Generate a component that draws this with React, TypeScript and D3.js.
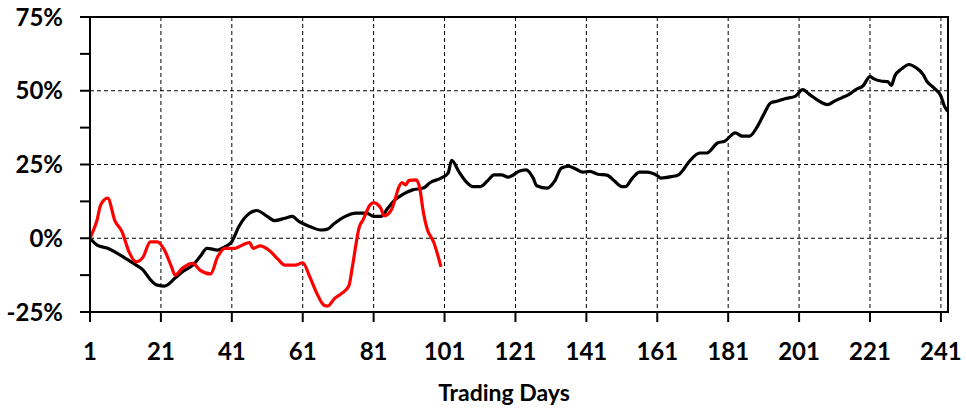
import React from 'react';
import * as d3 from 'd3';

// 차트 데이터 (그림에서 읽은 값, 단위: %)
const blackDays = [
  1, 3, 6, 8, 11, 14, 16, 18, 20, 22, 25, 27, 30, 32, 34, 37, 39, 41, 43, 46, 48, 51, 53, 56, 58, 60, 63, 66, 68, 70,
  73, 76, 79, 81, 83, 85, 87, 89, 92, 95, 97, 100, 102, 103, 105, 107, 109, 111, 113, 115, 117, 119, 120, 122, 124,
  126, 127, 130, 132, 134, 136, 138, 140, 142, 144, 147, 149, 151, 152, 154, 156, 158, 161, 162, 165, 167, 168, 170,
  173, 175, 178, 180, 183, 185, 187, 189, 191, 193, 195, 197, 200, 202, 204, 206, 209, 211, 213, 215, 217, 219, 221,
  222, 224, 226, 227, 228, 230, 232, 234, 236, 237, 239, 241, 242, 243,
];
const blackValues = [
  0, -2.3, -3.4, -4.6, -6.8, -9.1, -10.8, -14, -15.9, -16.2, -13.5, -11.4, -9.1, -6.3, -3.4, -4, -2.9, -1.2, 4, 8.5,
  9.4, 7.4, 6, 6.8, 7.4, 5.6, 4, 2.8, 3.1, 5.1, 7.4, 8.5, 8.5, 7.4, 7.4, 10.2, 13, 14.7, 16.4, 17, 18.9, 20.4, 22.1,
  26.4, 22.7, 19.3, 17.5, 17.5, 19.3, 21.5, 21.5, 20.7, 21.2, 22.7, 23.2, 20.4, 17.8, 17, 19.3, 23.8, 24.4, 23.5, 22.4,
  22.7, 21.8, 21.3, 19.3, 17.5, 17.5, 20.4, 22.4, 22.4, 21.2, 20.4, 20.9, 21.5, 22.7, 26, 28.9, 28.9, 32.3, 32.9, 35.7,
  34.6, 34.6, 37.4, 41.9, 45.9, 46.5, 47.3, 48.2, 50.4, 48.7, 47, 45.3, 46.5, 47.6, 48.7, 50.4, 51.6, 54.8, 54.1, 53.3,
  53.1, 51.8, 55, 57.5, 58.9, 57.8, 55.5, 53.3, 51, 48.2, 44.8, 43,
];
const redDays = [
  1, 2, 3, 4, 6, 8, 10, 12, 14, 16, 18, 20, 22, 24, 25, 27, 30, 32, 35, 37, 39, 42, 43, 46, 47, 49, 52, 54, 56, 59, 61,
  63, 65, 67, 68, 70, 72, 74, 75, 77, 78, 80, 81, 83, 84, 86, 87, 88, 89, 90, 91, 93, 94, 95, 96, 98, 100,
];
const redValues = [
  0, 2.8, 6.2, 11.3, 13.6, 6, 2.3, -4.6, -8, -6.3, -1.2, -1.2, -4, -9.7, -12.5, -10.2, -8.5, -10.8, -12.1, -6.3, -3.4,
  -3.4, -2.9, -1.5, -3.4, -2.6, -4.6, -7.1, -9.1, -9.1, -8.3, -13.1, -18.7, -22.7, -23, -20.4, -18.7, -16.2, -9.7, 4,
  6.2, 11.3, 12.1, 10.2, 7.6, 9.6, 13, 17, 18.9, 18.1, 19.6, 19.8, 17, 9, 3.5, -1.5, -9.7,
];
const xTicks = [1, 21, 41, 61, 81, 101, 121, 141, 161, 181, 201, 221, 241];
const yTicks = [-25, 0, 25, 50, 75];
const yMinorTicks = [-25, -12.5, 0, 12.5, 25, 37.5, 50, 62.5, 75];
const xTitle = 'Trading Days';

const W = 966;
const H = 409;
const margin = { left: 90, right: 18, top: 17, bottom: 97 };
const font = 'Lato, "Open Sans", sans-serif';

const App: React.FC = () => {
  const x = d3.scaleLinear().domain([1, 243]).range([margin.left, W - margin.right]);
  const y = d3.scaleLinear().domain([-25, 75]).range([H - margin.bottom, margin.top]);

  const line = d3
    .line<[number, number]>()
    .x((d) => x(d[0]))
    .y((d) => y(d[1]))
    .curve(d3.curveMonotoneX);

  const blackData = blackDays.map((d, i) => [d, blackValues[i]] as [number, number]);
  const redData = redDays.map((d, i) => [d, redValues[i]] as [number, number]);

  const [x0, x1] = x.range();
  const [y0, y1] = y.range();

  return (
    <svg width={W} height={H} style={{ position: 'absolute', left: 0, top: 0, background: '#fff' }}>
      {/* 격자선 */}
      {yTicks
        .filter((t) => t > -25 && t < 75)
        .map((t) => (
          <line key={'gy' + t} x1={x0} x2={x1} y1={y(t)} y2={y(t)} stroke="#000" strokeWidth={1} strokeDasharray="4,3" />
        ))}
      {xTicks
        .filter((t) => t > 1)
        .map((t) => (
          <line key={'gx' + t} x1={x(t)} x2={x(t)} y1={y1} y2={y0} stroke="#000" strokeWidth={1} strokeDasharray="4,3" />
        ))}

      {/* 시리즈 */}
      <path d={line(blackData)!} fill="none" stroke="#000" strokeWidth={3.2} strokeLinejoin="round" />
      <path d={line(redData)!} fill="none" stroke="#ff0000" strokeWidth={3.2} strokeLinejoin="round" />

      {/* 테두리와 축 */}
      <rect x={x0} y={y1} width={x1 - x0} height={y0 - y1} fill="none" stroke="#000" strokeWidth={2} />
      {yMinorTicks.map((t) => (
        <line key={'ty' + t} x1={x0 - 10} x2={x0} y1={y(t)} y2={y(t)} stroke="#000" strokeWidth={2} />
      ))}
      {xTicks.map((t) => (
        <line key={'tx' + t} x1={x(t)} x2={x(t)} y1={y0} y2={y0 + 10} stroke="#000" strokeWidth={2} />
      ))}

      {/* 라벨 */}
      {yTicks.map((t) => (
        <text
          key={'ly' + t}
          x={63}
          y={y(t)}
          dy="0.36em"
          textAnchor="end"
          fontFamily={font}
          fontWeight="bold"
          fontSize={24}
          fill="#000"
        >
          {t}%
        </text>
      ))}
      {xTicks.map((t) => (
        <text
          key={'lx' + t}
          x={x(t)}
          y={360}
          textAnchor="middle"
          fontFamily={font}
          fontWeight="bold"
          fontSize={24}
          fill="#000"
        >
          {t}
        </text>
      ))}
      <text x={504} y={401} textAnchor="middle" fontFamily={font} fontWeight="bold" fontSize={23} fill="#000">
        {xTitle}
      </text>
    </svg>
  );
};

export default App;
